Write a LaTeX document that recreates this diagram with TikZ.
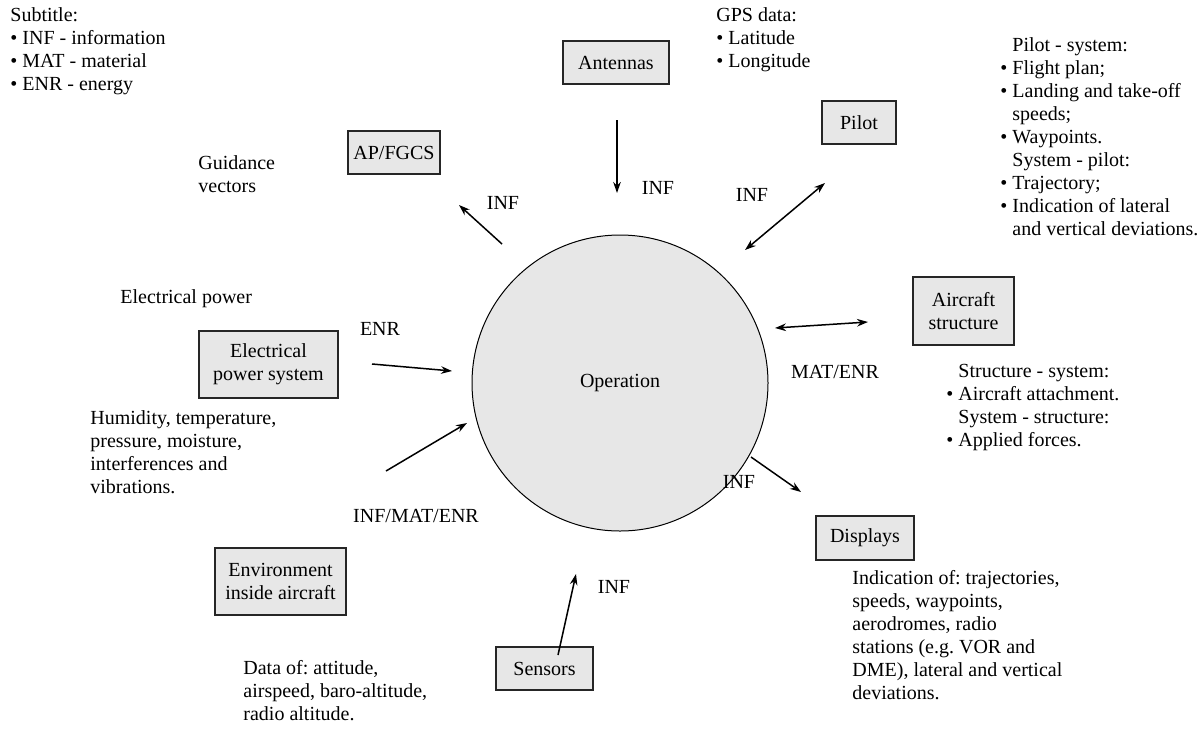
\documentclass[tikz,border=0pt]{standalone}
\usepackage{fontspec}
\setmainfont{Liberation Serif}
\usepackage{tikz}
\usetikzlibrary{arrows.meta}

\definecolor{boxgray}{RGB}{231,231,231}
\newcommand{\ind}{\phantom{•\ }}
\frenchspacing

\begin{document}
\begin{tikzpicture}[x=0.5pt, y=-0.5pt,
        every node/.style={font=\fontsize{10}{11.5}\selectfont, inner sep=0pt},
        blk/.style={draw=black!85, line width=0.8pt, fill=boxgray, align=center},
        note/.style={anchor=north west, align=left},
        flow/.style={line width=0.75pt, -{Stealth[length=5.5pt, width=3.8pt]}},
        both/.style={line width=0.75pt, {Stealth[length=5.5pt, width=3.8pt]}-{Stealth[length=5.5pt, width=3.8pt]}}]
    \useasboundingbox (0,0) rectangle (1199,729);

    \node[circle, draw, fill=boxgray, line width=0.5pt, minimum size=148pt] (op) at (620,383) {Operation};

    \node[blk, minimum width=46pt, minimum height=21.5pt] (ap) at (394,152.5) {AP/FGCS};
    \node[blk, minimum width=53pt, minimum height=21.5pt] (ant) at (616,62.5) {Antennas};
    \node[blk, minimum width=37pt, minimum height=21.5pt] (pil) at (859,122.5) {Pilot};
    \node[blk, minimum width=50.5pt, minimum height=34pt] (acs) at (963.5,311) {Aircraft\\structure};
    \node[blk, minimum width=69.5pt, minimum height=33.5pt] (eps) at (268.5,364.5) {Electrical\\power system};
    \node[blk, minimum width=65.5pt, minimum height=33.5pt] (env) at (280.5,581.5) {Environment\\inside aircraft};
    \node[blk, minimum width=48.5pt, minimum height=21.5pt] (sen) at (544.5,668.5) {Sensors};
    \node[blk, minimum width=49pt, minimum height=22pt] (dis) at (865,538) {Displays};

    \node[note] (legend) at (10,7) {Subtitle:\\• INF - information\\• MAT - material\\• ENR - energy};
    \node[note] (gps) at (716,7) {GPS data:\\• Latitude\\• Longitude};
    \node[note] (pilnote) at (1000,37) {\ind Pilot - system:\\• Flight plan;\\• Landing and take-off\\\ind speeds;\\• Waypoints.\\\ind System - pilot:\\• Trajectory;\\• Indication of lateral\\\ind and vertical deviations.};
    \node[note] (guid) at (198,155) {Guidance\\vectors};
    \node[note] (elec) at (120,289) {Electrical power};
    \node[note] (acsnote) at (946,364) {\ind Structure - system:\\• Aircraft attachment.\\\ind System - structure:\\• Applied forces.};
    \node[note] (envnote) at (90,410) {Humidity, temperature,\\pressure, moisture,\\interferences and\\vibrations.};
    \node[note] (sennote) at (243,660) {Data of: attitude,\\airspeed, baro-altitude,\\radio altitude.};
    \node[note] (disnote) at (852,570) {Indication of: trajectories,\\speeds, waypoints,\\aerodromes, radio\\stations (e.g. VOR and\\DME), lateral and vertical\\deviations.};

    \node (lap) at (503,203) {INF};
    \node (lant) at (658,188) {INF};
    \node (lpil) at (752,195) {INF};
    \node (leps) at (380,329) {ENR};
    \node (lacs) at (835,372) {MAT/ENR};
    \node (lenv) at (416,516) {INF/MAT/ENR};
    \node (ldis) at (739,482) {INF};
    \node (lsen) at (614,587) {INF};

    \coordinate (apA) at (502,244);   \coordinate (apB) at (459,205);
    \coordinate (antA) at (617,120);  \coordinate (antB) at (617,193);
    \coordinate (pilA) at (745,250);  \coordinate (pilB) at (825,183);
    \coordinate (acsA) at (775,328);  \coordinate (acsB) at (868,322);
    \coordinate (epsA) at (372,364);  \coordinate (epsB) at (452,371);
    \coordinate (envA) at (386,471);  \coordinate (envB) at (467,423);
    \coordinate (senA) at (558,655);  \coordinate (senB) at (576,574);
    \coordinate (disA) at (751,457);  \coordinate (disB) at (801,492);

    \draw[flow] (apA) -- (apB);
    \draw[flow] (antA) -- (antB);
    \draw[both] (pilA) -- (pilB);
    \draw[both] (acsA) -- (acsB);
    \draw[flow] (epsA) -- (epsB);
    \draw[flow] (envA) -- (envB);
    \draw[flow] (senA) -- (senB);
    \draw[flow] (disA) -- (disB);
\end{tikzpicture}
\end{document}
